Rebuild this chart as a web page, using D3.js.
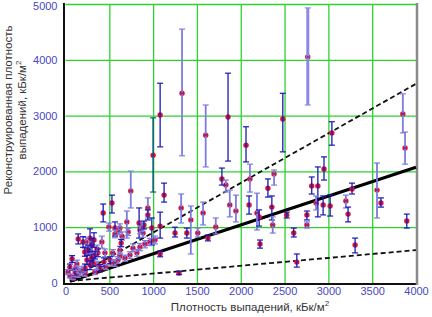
<!DOCTYPE html>
<html>
<head>
<meta charset="utf-8">
<script src="https://cdn.jsdelivr.net/npm/d3@7"></script>
<style>
  body { margin: 0; background: #fff; }
  text { font-family: Arial, "Liberation Sans", sans-serif; }
</style>
</head>
<body>
<div id="chart"></div>
<script>
// measured deposition (x), reconstructed value (y), error bar low/high, bar style
const xVals = [1000,1080,1330,1600,1855,2060,2480,2765,3040,3850,3875,2105,2095,2185,2210,2220,2310,2355,2380,2365,
  2525,2605,2640,2755,2755,2810,2880,2860,2950,2940,3020,3200,3225,3270,3305,3555,3600,3895,1320,1430,
  1385,1250,1510,1570,1625,1715,1785,1830,1875,1945,1295,1125,745,700,565,620,645,840,875,885,
  940,940,985,1080,620,620,770,815,1080,530,430,495,280,235,220,415,370,450,75,50,
  130,300,110,190,540,510,565,565,635,610,715,850,895,360,145,200,
  257,302,337,314,359,280,222,165,394,439,245,325,
  51,86,143,222,337,462,531,599,679,736,850,907,964,1021,29,120];
const yVals = [2290,3010,3400,2650,2975,2470,2940,4050,2690,3030,2420,1865,1400,1255,1185,700,1700,1360,1955,1040,
  1220,895,375,1220,1040,1740,1740,1435,2045,1400,1380,1470,1235,1685,680,1665,1435,1110,1345,1130,
  895,895,895,1255,805,1005,1865,1755,1400,1290,180,1575,1650,1095,985,985,840,1075,1005,895,
  1345,1220,985,1020,590,485,625,540,520,1435,1255,1005,805,735,555,735,540,540,430,285,
  340,450,195,235,540,410,360,880,715,930,915,950,1040,610,790,735,
  591,681,502,376,322,322,269,197,269,376,412,770,
  125,90,143,161,197,287,358,412,448,502,645,699,735,770,197,269];
const yLow = [1630,2440,2280,2080,2185,2170,2350,3190,2470,2690,2130,1630,1235,950,1020,625,1540,1130,1755,895,
  1165,825,285,1130,985,1595,1185,1310,1845,1220,1200,1345,1095,1595,540,1165,1360,985,1075,520,
  805,825,825,1040,755,880,1755,1630,1185,1095,150,1450,1345,805,840,910,770,805,930,820,
  1165,1130,680,805,520,430,560,480,470,1255,1095,930,555,650,480,625,470,470,370,230,
  270,380,140,170,480,350,300,810,650,860,850,880,970,540,700,640,
  500,560,430,300,250,240,200,130,200,300,330,640,
  90,60,100,120,150,240,300,350,390,440,580,630,670,700,150,220];
const yHigh = [2960,3580,4550,3190,3760,2800,3400,4930,2890,3390,2705,2130,1560,1610,1310,770,1865,1560,2025,1185,
  1270,985,520,1290,1095,1900,2080,1560,2260,1560,1580,1575,1360,1790,805,2150,1525,1235,1595,1380,
  985,1000,985,1450,860,1165,2060,1845,1665,1575,210,1790,2005,1290,1095,1060,915,1345,1080,970,
  1525,1310,1165,1270,660,540,700,600,575,1575,1415,1075,970,820,630,840,610,610,490,340,
  410,520,250,300,600,470,420,950,780,1000,980,1020,1110,680,880,830,
  680,800,570,450,390,400,340,260,330,450,490,900,
  160,120,190,200,240,330,410,470,500,560,710,760,800,840,240,310];
const barType = ["t","d","l","l","d","d","d","w","d","l","l","l","d","l","d","d","d","d","l","l",
  "d","d","d","d","l","d","d","l","d","d","d","l","d","d","d","l","d","d","l","l",
  "d","d","l","l","d","l","d","l","l","l","d","d","l","l","d","l","l","d","l","l",
  "l","d","d","d","l","l","l","l","d","d","d","l","d","l","d","l","d","l","d","d",
  "l","d","d","l","l","d","l","l","d","l","l","l","d","l","d","d",
  "d","d","d","d","l","d","d","l","d","d","d","d",
  "l","l","l","l","l","l","l","l","l","l","l","l","l","l","l","l"];

// fitted lines, [x, y] end points
const fitLine = [[50, 30], [4000, 2075]];
const upperLine = [[50, 60], [4000, 3570]];
const lowerLine = [[50, 35], [4000, 590]];

const xTicks = [0, 500, 1000, 1500, 2000, 2500, 3000, 3500, 4000];
const yTicks = [0, 1000, 2000, 3000, 4000, 5000];

const W = 432, H = 317;
const svg = d3.select("#chart").append("svg")
  .attr("width", W).attr("height", H);

const x = d3.scaleLinear().domain([0, 4000]).range([65.5, 416]);
const y = d3.scaleLinear().domain([0, 5000]).range([283, 4]);

// grid
svg.append("g")
  .attr("transform", "translate(0,283)")
  .call(d3.axisBottom(x).tickValues(xTicks.slice(1, -1)).tickSize(-279).tickFormat(""))
  .call(g => g.select(".domain").remove())
  .selectAll("line").attr("stroke", "#2fd22f").attr("stroke-width", 1.3);
svg.append("g")
  .attr("transform", "translate(65.5,0)")
  .call(d3.axisLeft(y).tickValues(yTicks.slice(1)).tickSize(-350.5).tickFormat(""))
  .call(g => g.select(".domain").remove())
  .selectAll("line").attr("stroke", "#2fd22f").attr("stroke-width", 1.3);

// tick labels
const xAxis = svg.append("g")
  .attr("transform", "translate(0,283)")
  .call(d3.axisBottom(x).tickValues(xTicks).tickSize(0).tickPadding(4).tickFormat(d3.format("d")));
xAxis.select(".domain").remove();
xAxis.selectAll("text").attr("fill", "#4848c0").attr("font-size", 11);

const yAxis = svg.append("g")
  .attr("transform", "translate(65.5,0)")
  .call(d3.axisLeft(y).tickValues(yTicks).tickSize(0).tickPadding(8).tickFormat(d3.format("d")));
yAxis.select(".domain").remove();
yAxis.selectAll("text").attr("fill", "#4848c0").attr("font-size", 11)
  .filter(d => d === 5000).attr("dy", "0.5em");

// frame
svg.append("line").attr("x1", 64).attr("x2", 64).attr("y1", 3).attr("y2", 285)
  .attr("stroke", "#111").attr("stroke-width", 2);
svg.append("line").attr("x1", 63).attr("x2", 418).attr("y1", 284).attr("y2", 284)
  .attr("stroke", "#111").attr("stroke-width", 2);
svg.append("line").attr("x1", 417).attr("x2", 417).attr("y1", 3).attr("y2", 285)
  .attr("stroke", "#8a8a8a").attr("stroke-width", 2.5);

// fit lines
const line = d3.line().x(d => x(d[0])).y(d => y(d[1]));
svg.append("path").attr("d", line(upperLine)).attr("fill", "none")
  .attr("stroke", "#111").attr("stroke-width", 1.8).attr("stroke-dasharray", "5,3");
svg.append("path").attr("d", line(lowerLine)).attr("fill", "none")
  .attr("stroke", "#111").attr("stroke-width", 1.8).attr("stroke-dasharray", "5,3");
svg.append("path").attr("d", line(fitLine)).attr("fill", "none")
  .attr("stroke", "#000").attr("stroke-width", 3.2);

// points
const barColor = { d: "#1818b8", l: "#7c7ce0", w: "#8a8ae6", t: "#0c6078" };
const barWidth = { d: 1.3, l: 1.8, w: 3, t: 1.6 };
const pts = xVals.map((v, i) => ({ x: v, y: yVals[i], lo: yLow[i], hi: yHigh[i], t: barType[i] }));

svg.append("g").selectAll("circle")
  .data(pts)
  .enter()
  .append("circle")
    .attr("cx", d => x(d.x))
    .attr("cy", d => y(d.y))
    .attr("r", 2.7)
    .attr("fill", "#d81440");

const bars = svg.append("g").selectAll("g")
  .data(pts)
  .enter()
  .append("g")
    .attr("stroke", d => barColor[d.t])
    .attr("stroke-width", d => barWidth[d.t]);
bars.append("line")
  .attr("x1", d => x(d.x)).attr("x2", d => x(d.x))
  .attr("y1", d => y(d.hi)).attr("y2", d => y(d.lo));
bars.append("line")
  .attr("x1", d => x(d.x) - 3).attr("x2", d => x(d.x) + 3)
  .attr("y1", d => y(d.hi)).attr("y2", d => y(d.hi))
  .attr("stroke-width", 1.2);
bars.append("line")
  .attr("x1", d => x(d.x) - 3).attr("x2", d => x(d.x) + 3)
  .attr("y1", d => y(d.lo)).attr("y2", d => y(d.lo))
  .attr("stroke-width", 1.2);
// small dark core, as in the original
svg.append("g").selectAll("circle")
  .data(pts)
  .enter()
  .append("circle")
    .attr("cx", d => x(d.x))
    .attr("cy", d => y(d.y))
    .attr("r", 1.1)
    .attr("fill", "#7a1050")
    .attr("opacity", 0.7);

// axis titles
const xt = svg.append("text")
  .attr("x", 250).attr("y", 311)
  .attr("text-anchor", "middle")
  .attr("font-size", 11.5).attr("fill", "#333");
xt.append("tspan").text("Плотность выпадений, кБк/м");
xt.append("tspan").attr("dy", -5).attr("font-size", 8).text("2");

const yt = svg.append("text")
  .attr("transform", "translate(12,110) rotate(-90)")
  .attr("text-anchor", "middle")
  .attr("font-size", 11.5).attr("fill", "#333");
yt.append("tspan").attr("x", 0).attr("y", 0).text("Реконструированная плотность");
const yt2 = svg.append("text")
  .attr("transform", "translate(26,110) rotate(-90)")
  .attr("text-anchor", "middle")
  .attr("font-size", 11.5).attr("fill", "#333");
yt2.append("tspan").text("выпадений, кБк/м");
yt2.append("tspan").attr("dy", -5).attr("font-size", 8).text("2");
</script>
</body>
</html>
